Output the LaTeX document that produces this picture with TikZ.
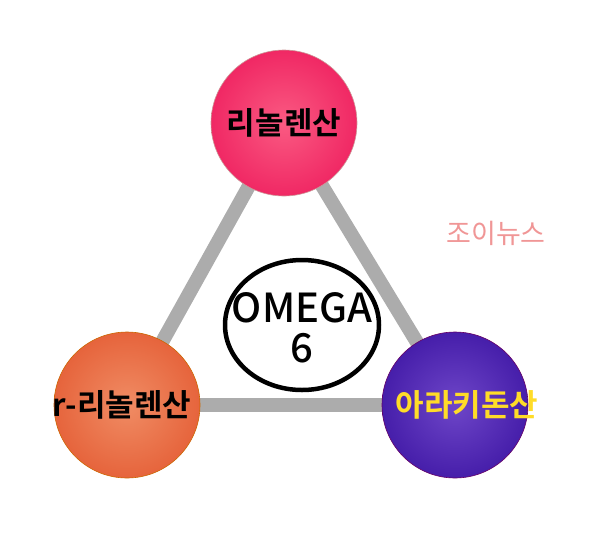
\documentclass[tikz,border=0pt]{standalone}
\usepackage{fontspec}
\usetikzlibrary{shapes.geometric}
\newfontfamily\kr{Noto Sans CJK KR Bold}
\newfontfamily\krm{Noto Sans CJK KR Medium}
\newfontfamily\krl{Noto Sans CJK KR}
\begin{document}
\begin{tikzpicture}[x=1pt,y=-1pt,
  ball/.style={circle,minimum size=146pt,inner sep=0pt,draw=#1!80!black,line width=0.6pt},
  lbl/.style={font=\kr\fontsize{31}{33}\selectfont},
  bar/.style={draw=gray!65,line width=14pt}]
\useasboundingbox (0,0) rectangle (600,550);
\coordinate (t) at (284,123);
\coordinate (l) at (127,405);
\coordinate (r) at (455,405);
\path[bar] (t) -- (l);
\path[bar] (t) -- (r);
\path[bar] (l) -- (r);
\node[ball=pink,shading=radial,inner color={rgb,255:red,250;green,90;blue,130},outer color={rgb,255:red,240;green,40;blue,100}] (tb) at (t) {};
\node[ball=orange,shading=radial,inner color={rgb,255:red,240;green,140;blue,100},outer color={rgb,255:red,230;green,100;blue,60}] (lb) at (l) {};
\node[ball=violet,shading=radial,inner color={rgb,255:red,110;green,70;blue,200},outer color={rgb,255:red,70;green,30;blue,170}] (rb) at (r) {};
\node[lbl] (tt) at (284,123) {리놀렌산};
\node[lbl] (lt) at (122,405) {r-리놀렌산};
\node[lbl,text={rgb,255:red,255;green,220;blue,40}] (rt) at (467,405) {아라키돈산};
\node[draw,ellipse,line width=4.5pt,fill=white,minimum width=154pt,minimum height=130pt] (c) at (302,325) {};
\node[font=\krm\fontsize{40}{40}\selectfont,align=center] (ct) at (302,328) {OMEGA\\6};
\node[font=\krl\fontsize{27}{30}\selectfont,text={rgb,255:red,240;green,150;blue,150}] (w) at (496,233) {조이뉴스};
\end{tikzpicture}
\end{document}
